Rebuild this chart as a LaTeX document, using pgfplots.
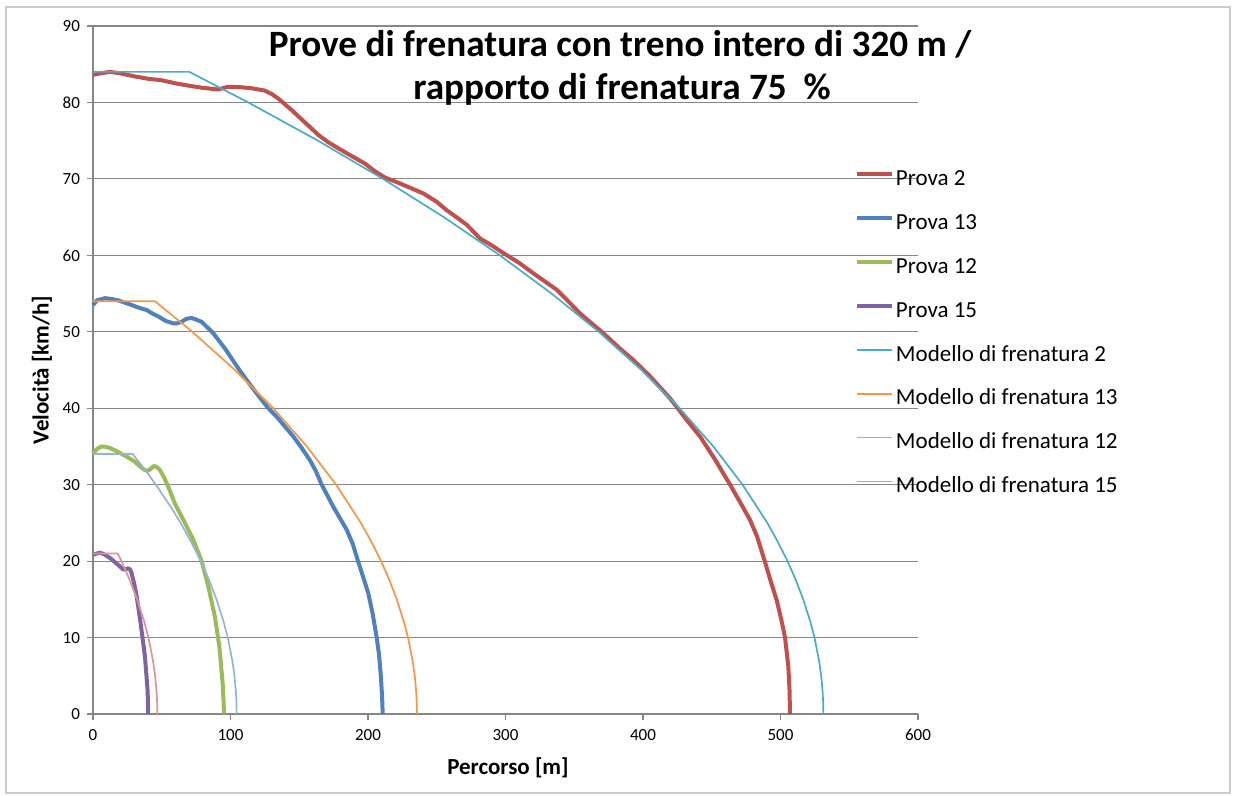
\documentclass[border=0pt]{standalone}
\usepackage{fontspec}
\setmainfont{Carlito}
\usepackage{graphicx}
\usepackage{pgfplots}
\pgfplotsset{compat=1.18}
\definecolor{cP2}{HTML}{C0504D}
\definecolor{cP13}{HTML}{4F81BD}
\definecolor{cP12}{HTML}{9BBB59}
\definecolor{cP15}{HTML}{8064A2}
\definecolor{cM2}{HTML}{4BACC6}
\definecolor{cM13}{HTML}{F79646}
\definecolor{cM12}{HTML}{95B3D7}
\definecolor{cM15}{HTML}{D99694}
\definecolor{gridgray}{HTML}{868686}
\begin{document}
\begin{tikzpicture}
\path (-46.5pt,-41pt) rectangle (573pt,357pt);
\draw[gray!40, line width=0.6pt] (-43.5pt,-39.5pt) rectangle (568.5pt,353.5pt);
\begin{axis}[
  scale only axis,
  width=412.5pt, height=344pt,
  xmin=0, xmax=600, ymin=0, ymax=90,
  xtick={0,100,...,600}, ytick={0,10,...,90},
  axis x line=bottom, axis y line=left,
  axis line style={-, gridgray, line width=0.6pt},
  tick style={gridgray, line width=0.6pt},
  tick align=outside, major tick length=3pt,
  ymajorgrids, grid style={gridgray, line width=0.6pt},
  /pgf/number format/assume math mode=true,
  tick label style={font=\fontsize{8.5}{10}\selectfont, text=black},
  xticklabel style={yshift=-1pt},
  xlabel={Percorso [m]},
  ylabel={Velocità [km/h]},
  xlabel style={font=\fontsize{11.5}{13}\selectfont\bfseries, at={(axis description cs:0.503,-0.0785)}, anchor=center},
  ylabel style={font=\fontsize{11.5}{13}\selectfont\bfseries, at={(axis description cs:-0.0618,0.5)}, anchor=center},
  legend cell align=left,
  legend image code/.code={\draw[#1] (0pt,3.3pt) -- (17.5pt,3.3pt);},
  legend style={at={(axis description cs:0.9236,0.7884)}, anchor=north west,
    draw=none, fill=none, inner sep=0pt, outer sep=0pt,
    font=\fontsize{11.5}{13}\selectfont, row sep=12.43pt, column sep=1pt,
    nodes={inner sep=0pt, text height=7pt, text depth=2.5pt}},
  clip=false,
]
\addplot[cP2, line width=2pt, line join=round] coordinates {
(0,83.6) (5,83.8) (12.4,84.0) (20,83.8) (30.5,83.4) (40,83.1) (50,82.9) (60,82.5) (69.3,82.2) (80,81.9) (91,81.7) (95,81.9) (98.4,82.05) (107,82.0) (115.4,81.85) (125,81.55) (130,81.1) (134.8,80.5) (144.5,79.0) (154,77.4) (163.9,75.75) (171,74.8) (178.4,74.0) (188,73.0) (197.8,72.0) (205,71.0) (212,70.2) (223.3,69.4) (240.2,68.1) (250,67.0) (257.2,65.9) (265,64.9) (271.8,64.0) (281.5,62.2) (290,61.3) (298.4,60.3) (310,59.0) (320.2,57.65) (337.2,55.5) (345,54.1) (354.2,52.4) (362,51.2) (371.2,49.8) (383.3,47.8) (393,46.3) (405,44.2) (419.6,41.3) (424.4,40.2) (432,38.4) (441.5,36.3) (452,33.4) (463.3,30.0) (470,27.9) (477.8,25.4) (483,23.2) (488.7,19.9) (493,17.3) (497.2,14.9) (500.5,12.4) (503.3,10.0) (505.7,6.2) (506.6,3.0) (506.9,0)
};
\addlegendentry{Prova 2}
\addplot[cP13, line width=2pt, line join=round] coordinates {
(0,53.5) (1.5,53.8) (2.7,54.1) (8.7,54.4) (13,54.3) (18.4,54.1) (28.1,53.5) (34,53.1) (39,52.85) (43,52.4) (47.5,52.0) (53,51.4) (58.4,51.1) (61,51.1) (64.4,51.3) (68,51.7) (71.7,51.8) (75,51.6) (79,51.3) (83,50.6) (87.5,49.8) (96,47.8) (105.7,45.2) (115.4,42.8) (122.6,41.1) (127.5,40.0) (133.5,38.9) (139.6,37.6) (145.7,36.3) (151,35.0) (157.8,33.2) (162,31.8) (166.3,30.0) (174.8,27.1) (184.5,24.1) (189,22.2) (192.9,19.9) (196.7,17.8) (200.2,15.8) (203.5,13.0) (206.3,10.0) (208,7.8) (209.2,5.3) (210.2,2.5) (210.7,0)
};
\addlegendentry{Prova 13}
\addplot[cP12, line width=2pt, line join=round] coordinates {
(0,34.0) (0.7,34.2) (3,34.7) (6.3,35.0) (9,34.95) (12.4,34.8) (17,34.4) (22,33.9) (26,33.5) (30.5,33.0) (34,32.4) (37.8,31.9) (39.8,31.8) (41.5,32.0) (44.4,32.45) (46.5,32.3) (48.7,31.9) (51.5,31.0) (54.8,29.7) (59.6,27.5) (65.7,25.4) (72.9,22.8) (79,20.0) (83.9,16.65) (88.7,12.7) (91.9,8.8) (94.3,4.0) (95.0,1.5) (95.3,0)
};
\addlegendentry{Prova 12}
\addplot[cP15, line width=2pt, line join=round] coordinates {
(0,20.8) (0.7,20.9) (5.1,21.1) (8,20.9) (12.4,20.4) (18.4,19.5) (22,18.9) (24,18.95) (25.7,19.05) (27,18.9) (28.1,18.4) (30,17.0) (31.8,15.35) (34.6,11.9) (37.8,7.5) (39.7,3.1) (40.2,0)
};
\addlegendentry{Prova 15}
\addplot[cM2, line width=0.85pt] coordinates {
(0,84) (70,84) (112.9,80) (163.6,75) (210.9,70) (255.1,65) (295.9,60) (333.5,55) (367.8,50) (398.8,45) (426.6,40) (451.1,35) (472.4,30) (490.4,25) (498.1,22.5) (505.1,20) (511.2,17.5) (516.5,15) (521.8,12) (524.7,10) (528.0,7) (529.6,5) (530.6,3) (531.05,1.5) (531.2,0)
};
\addlegendentry{Modello di frenatura 2}
\addplot[cM13, line width=0.85pt] coordinates {
(0,54) (45,54) (72.2,50) (103.2,45) (131.0,40) (155.5,35) (176.8,30) (194.8,25) (202.5,22.5) (209.5,20) (215.6,17.5) (220.9,15) (226.2,12) (229.1,10) (232.4,7) (234.0,5) (235.0,3) (235.45,1.5) (235.6,0)
};
\addlegendentry{Modello di frenatura 13}
\addplot[cM12, line width=0.85pt] coordinates {
(0,34) (28.9,34) (37.6,32) (45.7,30) (56.9,27) (63.7,25) (71.4,22.5) (78.4,20) (84.5,17.5) (89.8,15) (95.1,12) (98.0,10) (101.3,7) (102.9,5) (103.9,3) (104.35,1.5) (104.5,0)
};
\addlegendentry{Modello di frenatura 12}
\addplot[cM15, line width=0.85pt] coordinates {
(0,21) (18,21) (20.7,20) (25.6,18) (32.1,15) (37.4,12) (40.3,10) (43.6,7) (45.2,5) (46.2,3) (46.65,1.5) (46.8,0)
};
\addlegendentry{Modello di frenatura 15}
\end{axis}
\node[anchor=base, font=\fontsize{18.6}{22}\selectfont\bfseries] at (263.5pt,328.5pt) {Prove di frenatura con treno intero di 320 m /};
\node[anchor=base, font=\fontsize{18.6}{22}\selectfont\bfseries] at (264.5pt,307pt) {rapporto di frenatura 75~~\%};
\end{tikzpicture}
\end{document}
